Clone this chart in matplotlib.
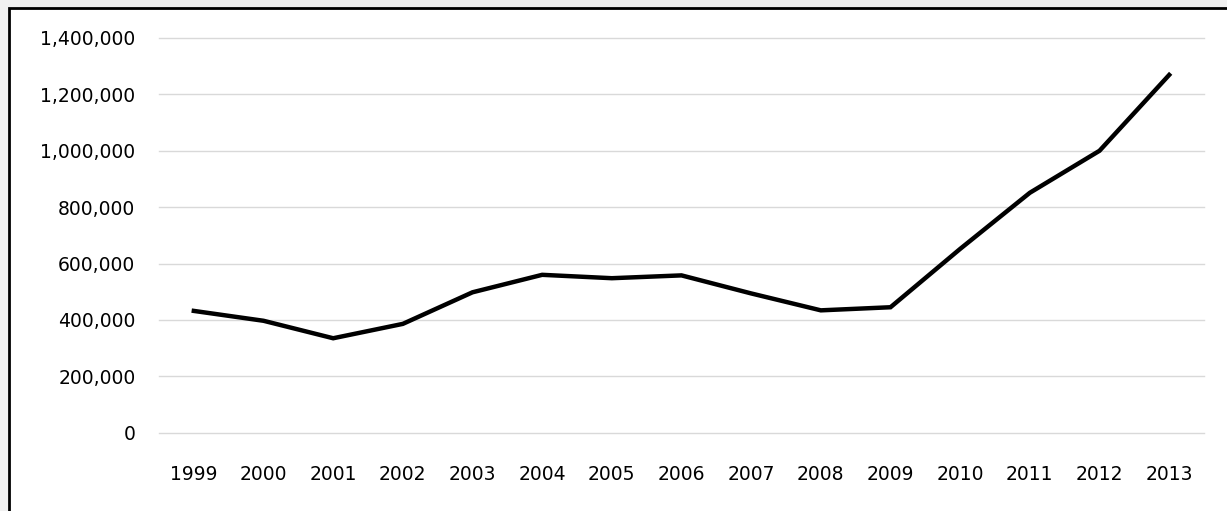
import matplotlib

matplotlib.use("Agg")
import matplotlib.pyplot as plt
from matplotlib.patches import Rectangle
from matplotlib.ticker import FuncFormatter

# Dados
years = [str(y) for y in range(1999, 2014)]
values = [
    432000, 397000, 335000, 386000, 498000,
    560000, 548000, 558000, 494000, 434000,
    445000, 652000, 851000, 1000000, 1269000,
]
y_ticks = [0, 200000, 400000, 600000, 800000, 1000000, 1200000, 1400000]

W, H = 1227, 511
fig = plt.figure(figsize=(W / 100, H / 100), dpi=100)
fig.patch.set_facecolor("#f0f0f0")

# Moldura (apenas borda esquerda e superior visíveis)
frame = Rectangle(
    (8.5 / W, -0.1), 1.2, 1.0 + 0.1 - 8.5 / H,
    transform=fig.transFigure, facecolor="white",
    edgecolor="black", linewidth=2.0, zorder=-10,
)
fig.patches.append(frame)

ax = fig.add_axes([159 / W, (H - 432.7) / H, (1204 - 159) / W, (432.7 - 38) / H])
ax.set_facecolor("none")
ax.set_zorder(1)

x = list(range(len(years)))
ax.plot(x, values, color="black", linewidth=3.2, solid_joinstyle="miter", zorder=3)

ax.set_xlim(-0.5, len(years) - 0.5)
ax.set_ylim(0, 1400000)
ax.set_xticks(x)
ax.set_xticklabels(years)
ax.set_yticks(y_ticks)
ax.yaxis.set_major_formatter(FuncFormatter(lambda v, p: f"{int(v):,}"))

ax.grid(axis="y", color="#d9d9d9", linewidth=1.0)
ax.set_axisbelow(True)
for gl in ax.get_ygridlines():
    gl.set_clip_on(False)
for s in ax.spines.values():
    s.set_visible(False)

ax.tick_params(axis="both", length=0, labelsize=13.5, colors="black")
ax.tick_params(axis="y", pad=17)
ax.tick_params(axis="x", pad=23)

fig.savefig("out.png", dpi=100, facecolor=fig.get_facecolor())
